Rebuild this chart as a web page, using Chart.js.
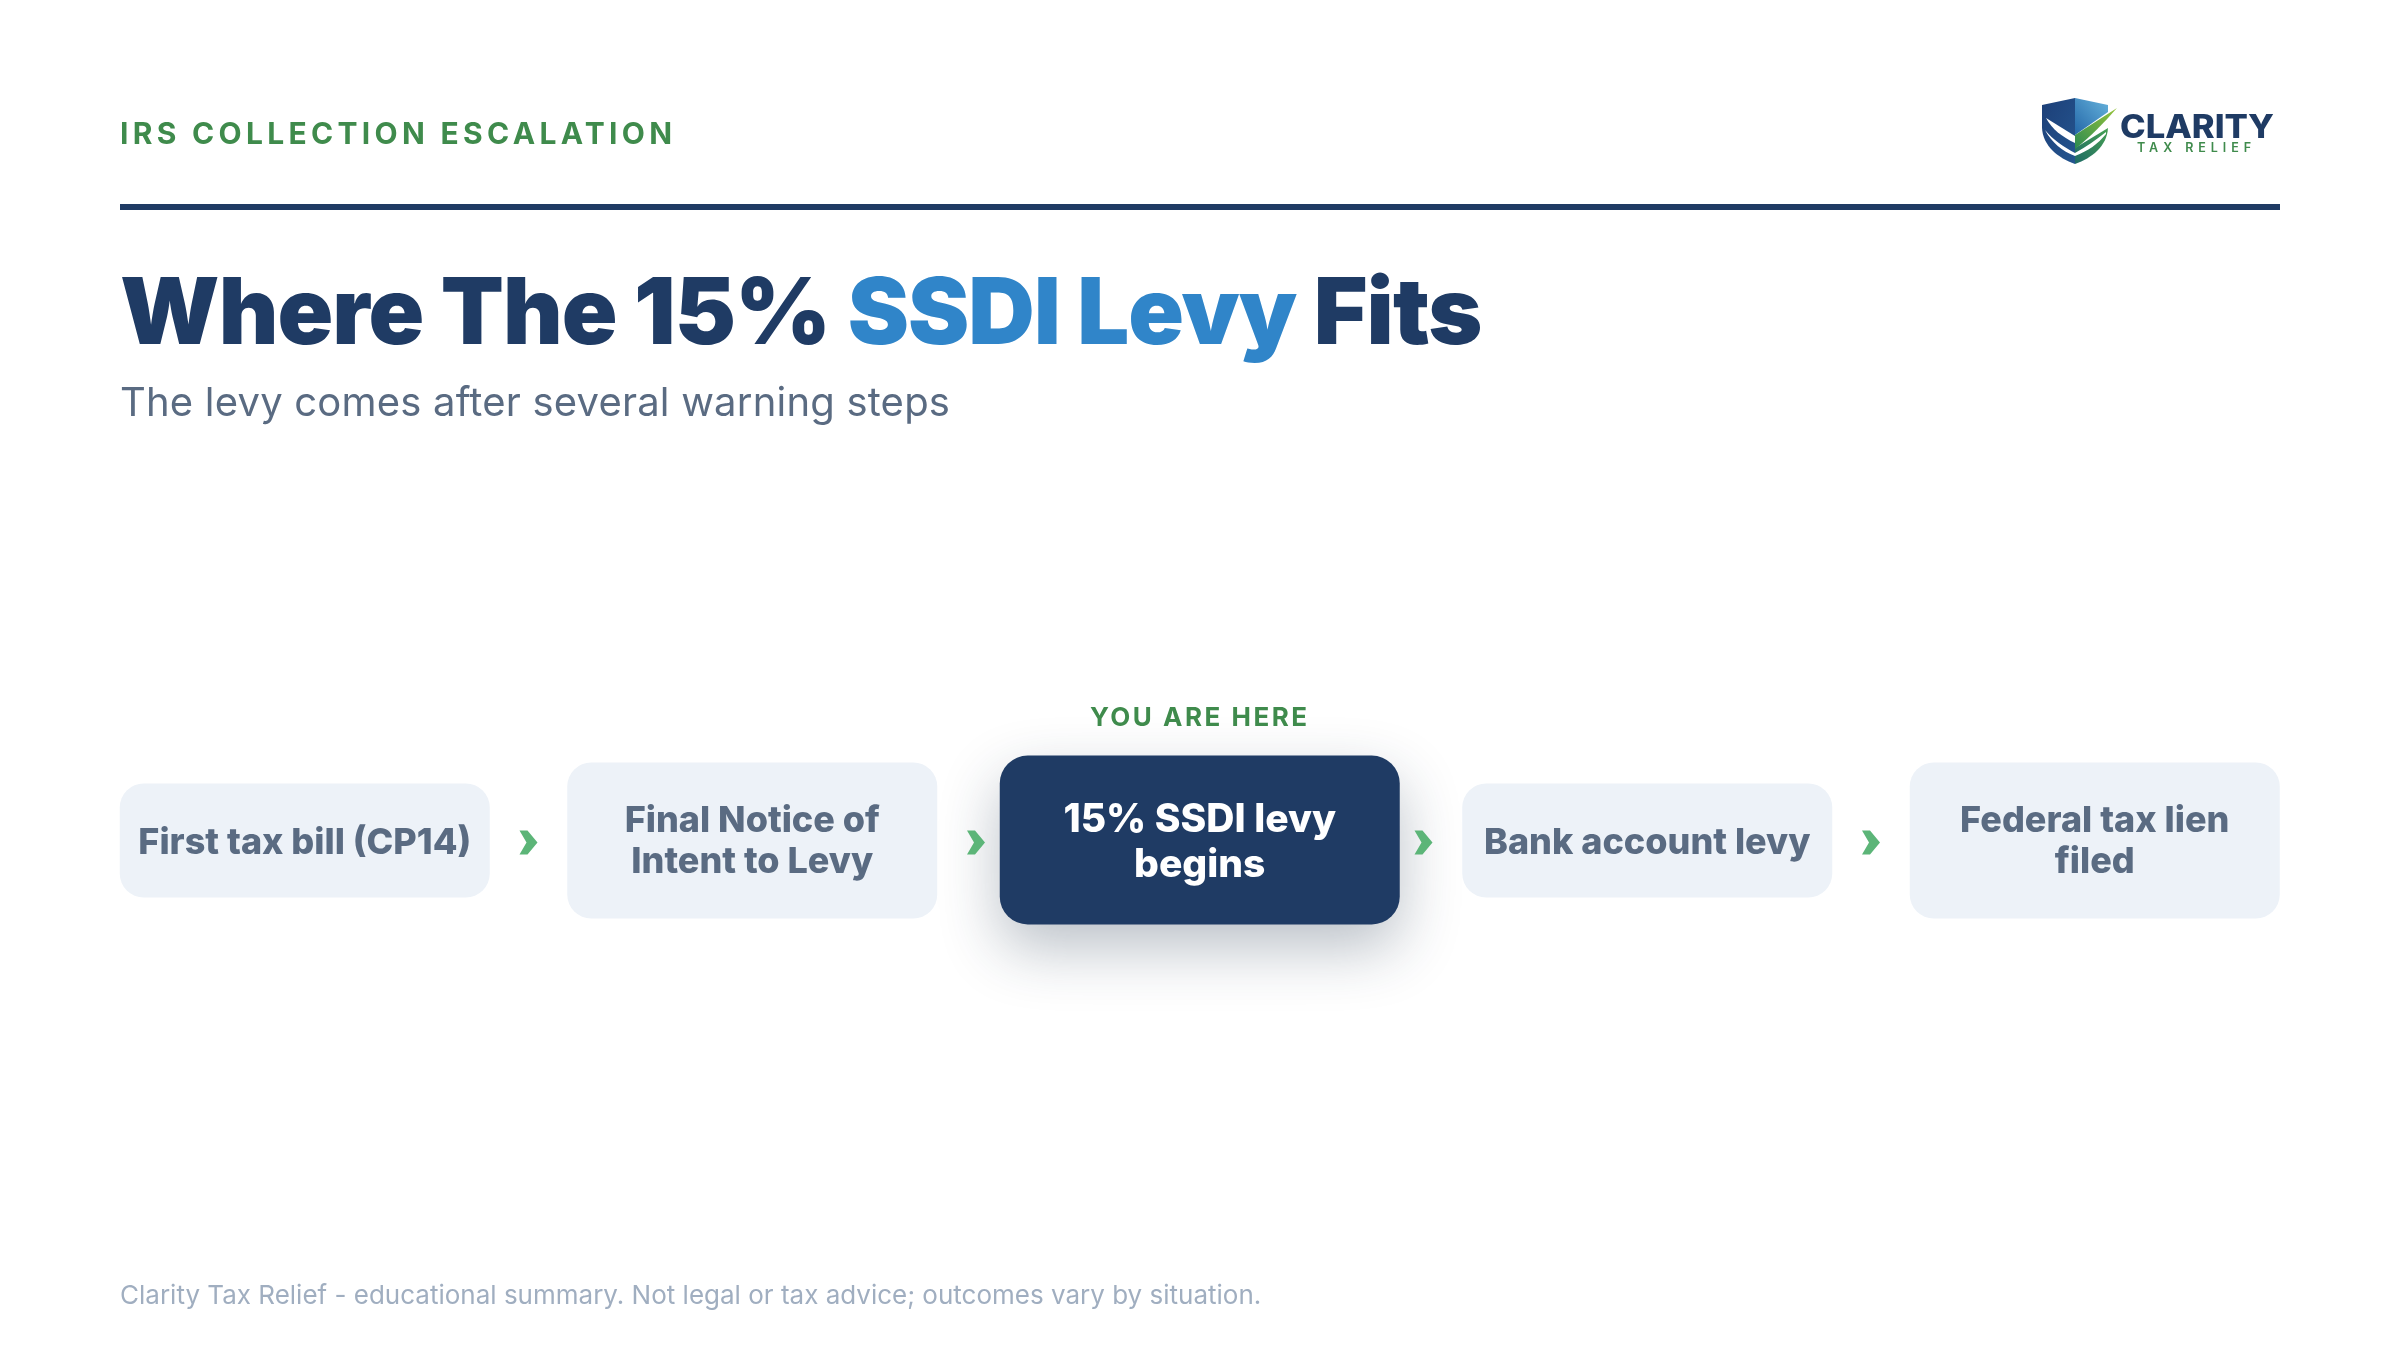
<!DOCTYPE html>
<html>
<head>
<meta charset="utf-8">
<title>Where The 15% SSDI Levy Fits</title>
<script src="https://cdn.jsdelivr.net/npm/chart.js@4/dist/chart.umd.min.js"></script>
<style>
  html, body { margin: 0; padding: 0; background: #fff; }
  body { width: 2400px; height: 1350px; position: relative; overflow: hidden; font-family: Inter, sans-serif; }
  #flow { position: absolute; left: 0; top: 0; }
  .txt { position: absolute; left: 120px; white-space: nowrap; margin: 0; }
  .eyebrow { top: 115px; font-size: 30px; line-height: 36px; font-weight: 700; letter-spacing: 4.3px; color: #3f8b4c; }
  .rule { position: absolute; left: 120px; top: 204px; width: 2160px; height: 6px; background: #1f3b64; }
  .title { top: 255px; font-size: 92px; line-height: 112px; font-weight: 900; letter-spacing: -0.92px; color: #1f3b64; }
  .title span { color: #3085c9; }
  .sub { top: 378px; font-size: 40px; line-height: 48px; font-weight: 400; letter-spacing: 0.2px; color: #5a6b82; }
  .foot { top: 1279px; font-size: 26px; line-height: 32px; color: #a0aec0; }
  #logo { position: absolute; left: 2030px; top: 90px; }
</style>
</head>
<body>
<canvas id="flow" width="2400" height="1350"></canvas>
<p class="txt eyebrow">IRS COLLECTION ESCALATION</p>
<div class="rule"></div>
<h1 class="txt title">Where The 15% <span>SSDI Levy</span> Fits</h1>
<p class="txt sub">The levy comes after several warning steps</p>
<p class="txt foot">Clarity Tax Relief - educational summary. Not legal or tax advice; outcomes vary by situation.</p>

<svg id="logo" width="260" height="80" viewBox="2030 90 260 80">
  <defs>
    <linearGradient id="navy" x1="0" y1="0" x2="1" y2="1"><stop offset="0" stop-color="#1d3f78"/><stop offset="1" stop-color="#24558f"/></linearGradient>
    <linearGradient id="sky" x1="0" y1="1" x2="1" y2="0"><stop offset="0" stop-color="#2467a8"/><stop offset="1" stop-color="#66b3dc"/></linearGradient>
    <linearGradient id="leaf" x1="0" y1="1" x2="1" y2="0"><stop offset="0" stop-color="#2c8a52"/><stop offset="1" stop-color="#97c43a"/></linearGradient>
    <linearGradient id="base" x1="0" y1="1" x2="1" y2="0"><stop offset="0" stop-color="#1f6a66"/><stop offset="1" stop-color="#46a052"/></linearGradient>
  </defs>
  <path d="M2075 98 L2042 105 L2042 128 C2043 146 2058 158 2075 164 Z" fill="url(#navy)"/>
  <path d="M2075 98 L2108 105 L2108 112 L2075 135 Z" fill="url(#sky)"/>
  <path d="M2075 148 L2108 128 C2107 146 2092 158 2075 164 Z" fill="url(#base)"/>
  <path d="M2075 135 L2117 108 C2103 124 2090 137 2075 149 Z" fill="url(#leaf)"/>
  <path d="M2046 118 L2075 136 L2075 143 C2062 137 2052 129 2046 118 Z" fill="#fff"/>
  <path d="M2045 130 C2052 143 2062 151 2075 156 C2088 151 2098 144 2106 134 L2106 132 C2096 140 2086 147 2075 153 C2064 147 2053 140 2045 130 Z" fill="#fff"/>
  <text x="2120" y="137.5" font-family="Inter" font-weight="800" font-size="32" fill="#1f3b64" textLength="154" lengthAdjust="spacingAndGlyphs">CLARITY</text>
  <text x="2137" y="152" font-family="Inter" font-weight="600" font-size="12.5" fill="#3f8b4c" textLength="114" lengthAdjust="spacing">TAX RELIEF</text>
</svg>

<script>
var stepLabels = [
  ["First tax bill (CP14)"],
  ["Final Notice of", "Intent to Levy"],
  ["15% SSDI levy", "begins"],
  ["Bank account levy"],
  ["Federal tax lien", "filed"]
];
var currentStep = 2;
var currentCaption = "YOU ARE HERE";

var NAVY = "#1f3b64";
var PALE = "#edf2f8";
var SLATE = "#5a6b82";
var GREEN = "#3f8b4c";
var ARROW = "#5cb578";

// y axis is 1 unit = 1px, 0 sits on the middle of the row
function span(lines, pad, lineH, lift) {
  var half = (pad + lines * lineH) / 2;
  return [lift - half, lift + half];
}

var paleBars = stepLabels.map(function(l, i) {
  return i === currentStep ? null : span(l.length, 72, 42, 0);
});
var currentBars = stepLabels.map(function(l, i) {
  return i === currentStep ? span(l.length, 79, 45, 0.5) : null;
});

var flowPlugin = {
  id: "flow",
  beforeDatasetDraw: function(chart, args) {
    if (args.index !== 1) return;
    var ctx = chart.ctx;
    ctx.save();
    ctx.shadowColor = "rgba(31,50,72,0.3)";
    ctx.shadowBlur = 60;
    ctx.shadowOffsetY = 24;
  },
  afterDatasetDraw: function(chart, args) {
    if (args.index === 1) chart.ctx.restore();
  },
  afterDatasetsDraw: function(chart) {
    var ctx = chart.ctx;
    var x = chart.scales.x;
    var mid = chart.scales.y.getPixelForValue(0);
    ctx.save();
    ctx.textAlign = "center";
    ctx.textBaseline = "alphabetic";

    stepLabels.forEach(function(lines, i) {
      var on = i === currentStep;
      var cx = x.getPixelForValue(i);
      var lineH = on ? 44.85 : 41.4;
      var base = on ? 14 : (lines.length > 1 ? 12 : 13);
      ctx.font = "800 " + (on ? 39 : 36) + "px Inter";
      ctx.fillStyle = on ? "#fff" : SLATE;
      lines.forEach(function(t, k) {
        ctx.fillText(t, cx, mid + base + (k - (lines.length - 1) / 2) * lineH);
      });

      // chevron between this step and the next
      if (i < stepLabels.length - 1) {
        var ax = (x.getPixelForValue(i) + x.getPixelForValue(i + 1)) / 2;
        var ay = mid + 2;
        ctx.fillStyle = ARROW;
        ctx.beginPath();
        ctx.moveTo(ax - 9, ay - 12);
        ctx.lineTo(ax - 1, ay - 12);
        ctx.lineTo(ax + 9, ay);
        ctx.lineTo(ax - 1, ay + 12);
        ctx.lineTo(ax - 9, ay + 12);
        ctx.lineTo(ax - 2, ay);
        ctx.closePath();
        ctx.fill();
      }
    });

    ctx.font = "700 26px Inter";
    ctx.letterSpacing = "2.5px";
    ctx.fillStyle = GREEN;
    ctx.fillText(currentCaption, x.getPixelForValue(currentStep), 726);
    ctx.restore();
  }
};

var chart = new Chart(document.getElementById("flow").getContext("2d"), {
  type: "bar",
  data: {
    labels: stepLabels,
    datasets: [
      {
        data: paleBars,
        backgroundColor: PALE,
        barThickness: 370,
        borderRadius: 24,
        borderSkipped: false,
        inflateAmount: 0,
        grouped: false
      },
      {
        data: currentBars,
        backgroundColor: NAVY,
        barThickness: 400,
        borderRadius: 28,
        borderSkipped: false,
        inflateAmount: 0,
        grouped: false
      }
    ]
  },
  options: {
    responsive: false,
    animation: false,
    layout: { padding: { left: 81, right: 81.5, top: 0, bottom: 0 } },
    plugins: { legend: { display: false }, tooltip: { enabled: false }, title: { display: false } },
    scales: {
      x: { display: false },
      y: { display: false, min: -509.5, max: 840.5 }
    }
  },
  plugins: [flowPlugin]
});
</script>
</body>
</html>
